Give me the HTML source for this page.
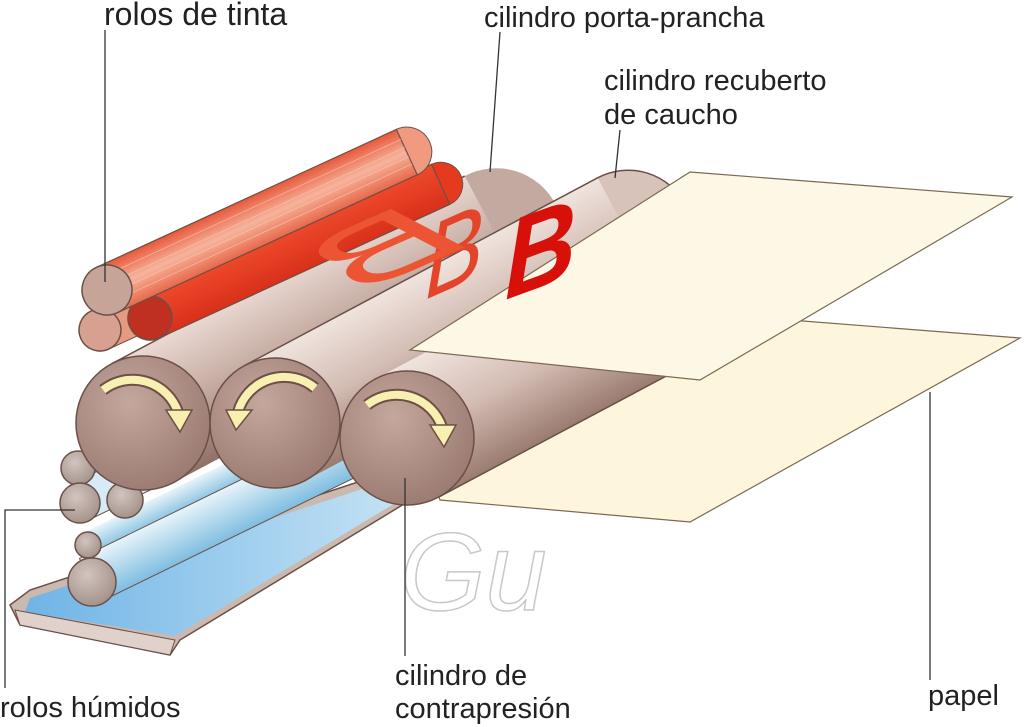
<!DOCTYPE html>
<html><head><meta charset="utf-8"><style>
html,body{margin:0;padding:0;background:#fff;}
svg{display:block;}
text{font-family:"Liberation Sans",sans-serif;}
</style></head><body>
<svg width="1024" height="727" viewBox="0 0 1024 727" xmlns="http://www.w3.org/2000/svg">
<defs>
<linearGradient id="bodyB" x1="0" y1="0" x2="0" y2="1">
<stop offset="0" stop-color="#ead9d2"/><stop offset="0.45" stop-color="#c9b0a7"/><stop offset="1" stop-color="#8f7168"/></linearGradient>
<linearGradient id="bodyC" x1="0" y1="0" x2="0" y2="1">
<stop offset="0" stop-color="#f0e4de"/><stop offset="0.5" stop-color="#d3bcb3"/><stop offset="1" stop-color="#9a7b70"/></linearGradient>
<linearGradient id="red" x1="0" y1="0" x2="0" y2="1">
<stop offset="0" stop-color="#ee4a2c"/><stop offset="1" stop-color="#d8301a"/></linearGradient>
<linearGradient id="salmon" x1="0" y1="0" x2="0" y2="1">
<stop offset="0" stop-color="#e8583a"/><stop offset="0.5" stop-color="#f6b49c"/><stop offset="1" stop-color="#e8684a"/></linearGradient>
<radialGradient id="cap" cx="0.4" cy="0.35" r="0.7">
<stop offset="0" stop-color="#c4a79d"/><stop offset="1" stop-color="#9a7a70"/></radialGradient>
<radialGradient id="wcap" cx="0.4" cy="0.35" r="0.7">
<stop offset="0" stop-color="#d4c4bf"/><stop offset="1" stop-color="#a09088"/></radialGradient>
<linearGradient id="water" x1="0" y1="0" x2="1" y2="0">
<stop offset="0" stop-color="#6fb4e6"/><stop offset="1" stop-color="#cfe8f6"/></linearGradient>
<linearGradient id="wbody" x1="0" y1="0" x2="0" y2="1">
<stop offset="0" stop-color="#e8f4fa"/><stop offset="1" stop-color="#7fbde0"/></linearGradient>
</defs>

<!-- tray -->
<polygon points="10,605 30,590 440,455 460,470 180,640 170,655 20,625" fill="#cbb8ae" stroke="#6b5048" stroke-width="1.5"/>
<polygon points="30,598 420,470 450,470 175,636 25,612" fill="url(#water)"/>
<polygon points="20,625 170,655 175,640 15,610" fill="#e0d2ca" stroke="#6b5048" stroke-width="1"/>

<!-- water rollers bodies -->
<g transform="translate(88,545) rotate(-26)"><rect x="0" y="-13" width="380" height="26" fill="url(#wbody)"/></g>
<g transform="translate(90,580) rotate(-26)"><rect x="0" y="-24" width="380" height="48" fill="url(#wbody)" stroke="#6b5048" stroke-width="1"/></g>
<g transform="translate(80,502) rotate(-26)"><rect x="0" y="-20" width="300" height="40" fill="#d6ebf5" stroke="#6b5048" stroke-width="1"/></g>

<!-- lower paper -->
<polygon points="790,320 1020,338 690,522 440,500 430,470" fill="#fdf6dc" stroke="#7a6a50" stroke-width="1.2"/>

<!-- plate cylinder -->
<g transform="translate(143,423) rotate(-28)">
<circle cx="400" cy="0" r="67" fill="#c3a9a0"/>
<rect x="0" y="-67" width="400" height="134" fill="url(#bodyB)"/>
<line x1="0" y1="-67" x2="400" y2="-67" stroke="#6b5048" stroke-width="1.5"/>
</g>
<!-- blanket cylinder -->
<g transform="translate(275,423) rotate(-28)">
<circle cx="400" cy="0" r="65" fill="#d8c3ba" stroke="#6b5048" stroke-width="1.5"/>
<rect x="0" y="-65" width="400" height="130" fill="url(#bodyC)"/>
<line x1="0" y1="-65" x2="400" y2="-65" stroke="#6b5048" stroke-width="1.5"/>
</g>
<!-- impression cylinder -->
<g transform="translate(407,438) rotate(-28)">
<rect x="0" y="-67" width="420" height="134" fill="url(#bodyC)"/>
<line x1="0" y1="67" x2="420" y2="67" stroke="#6b5048" stroke-width="1.5"/>
</g>

<text x="0" y="0" font-family="Liberation Serif,serif" font-style="italic" font-size="95" fill="#e4452a" transform="translate(425,300) rotate(-24) skewX(-25)">B</text>

<!-- ink rollers -->
<g transform="translate(100,330) rotate(-24.7)">
<rect x="0" y="-21" width="60" height="42" fill="#e89a80" stroke="#6b5048"/>
<circle r="21" fill="#d8a090" stroke="#6b5048" stroke-width="1.5"/>
</g>
<g transform="translate(150,318) rotate(-24.7)">
<circle cx="320" r="22" fill="#e63a1e" stroke="#6b5048"/>
<rect x="0" y="-22" width="320" height="44" fill="url(#red)" stroke="#6b5048" stroke-width="1.2"/>
<circle r="22" fill="#c03020" stroke="#6b5048" stroke-width="1.5"/>
</g>
<!-- mirrored B on plate -->
<text x="0" y="0" font-family="Liberation Serif,serif" font-style="italic" font-size="95" fill="#ec5434" transform="translate(470,245) rotate(-24) skewX(22) scale(-2,1)">B</text>
<g transform="translate(107,290) rotate(-24.7)">
<circle cx="330" r="25" fill="#f09a80" stroke="#6b5048"/>
<rect x="0" y="-25" width="330" height="50" fill="url(#salmon)" stroke="#6b5048" stroke-width="1.2"/>
<g stroke="#fbd0c0" stroke-width="0.7" opacity="0.7"><line x1="0" y1="-14" x2="330" y2="-14"/><line x1="0" y1="-5" x2="330" y2="-5"/><line x1="0" y1="5" x2="330" y2="5"/><line x1="0" y1="13" x2="330" y2="13"/></g>
<circle r="25" fill="#c7a498" stroke="#6b5048" stroke-width="1.5"/>
</g>

<!-- upper paper -->
<polygon points="690,172 1012,197 700,380 410,350" fill="#fdf8e6" stroke="#7a6a50" stroke-width="1.2"/>
<text x="0" y="0" font-family="Liberation Serif,serif" font-style="italic" font-weight="bold" font-size="105" fill="#d8100a" transform="translate(505,300) rotate(-20) skewX(-20)">B</text>

<!-- water rollers caps -->
<circle cx="78" cy="468" r="17" fill="url(#wcap)" stroke="#6b5048" stroke-width="1.5"/>
<circle cx="125" cy="500" r="18" fill="url(#wcap)" stroke="#6b5048" stroke-width="1.5"/>
<circle cx="80" cy="503" r="20" fill="url(#wcap)" stroke="#6b5048" stroke-width="1.5"/>
<circle cx="88" cy="545" r="13" fill="url(#wcap)" stroke="#6b5048" stroke-width="1.5"/>
<circle cx="92" cy="582" r="24" fill="url(#wcap)" stroke="#6b5048" stroke-width="1.5"/>

<!-- main caps -->
<circle cx="143" cy="423" r="67" fill="url(#cap)" stroke="#6b5048" stroke-width="1.5"/>
<circle cx="275" cy="423" r="65" fill="url(#cap)" stroke="#6b5048" stroke-width="1.5"/>
<circle cx="407" cy="438" r="67" fill="url(#cap)" stroke="#6b5048" stroke-width="1.5"/>

<!-- arrows -->
<g fill="none" stroke-linecap="butt">
<path d="M103,390 A48,48 0 0 1 178,412" stroke="#6b5048" stroke-width="12"/>
<path d="M103,390 A48,48 0 0 1 178,412" stroke="#f7f0b0" stroke-width="8"/>
<path d="M315,388 A48,48 0 0 0 238,412" stroke="#6b5048" stroke-width="12"/>
<path d="M315,388 A48,48 0 0 0 238,412" stroke="#f7f0b0" stroke-width="8"/>
<path d="M367,405 A48,48 0 0 1 442,427" stroke="#6b5048" stroke-width="12"/>
<path d="M367,405 A48,48 0 0 1 442,427" stroke="#f7f0b0" stroke-width="8"/>
</g>
<polygon points="166,410 192,410 180,432" fill="#f7f0b0" stroke="#6b5048" stroke-width="1.5"/>
<polygon points="226,410 252,410 236,430" fill="#f7f0b0" stroke="#6b5048" stroke-width="1.5"/>
<polygon points="430,425 456,425 444,447" fill="#f7f0b0" stroke="#6b5048" stroke-width="1.5"/>

<!-- watermark -->
<text x="400" y="610" font-family="Liberation Serif,serif" font-style="italic" font-size="110" fill="none" stroke="#c8c8c8" stroke-width="1.5">Gu</text>

<!-- leader lines -->
<g stroke="#333" stroke-width="1.3" fill="none">
<line x1="105" y1="30" x2="105" y2="282"/>
<line x1="500" y1="32" x2="490" y2="172"/>
<line x1="620" y1="130" x2="615" y2="178"/>
<polyline points="75,510 5,510 5,688"/>
<line x1="405" y1="478" x2="405" y2="656"/>
<line x1="930" y1="392" x2="930" y2="680"/>
</g>

<!-- labels -->
<g font-size="29" fill="#222">
<text x="104" y="25" font-size="32">rolos de tinta</text>
<text x="484" y="27">cilindro porta-prancha</text>
<text x="604" y="90">cilindro recuberto</text>
<text x="604" y="124">de caucho</text>
<text x="395" y="685">cilindro de</text>
<text x="395" y="718">contrapresión</text>
<text x="928" y="705">papel</text>
<text x="0" y="717">rolos húmidos</text>
</g>
</svg>
</body></html>
